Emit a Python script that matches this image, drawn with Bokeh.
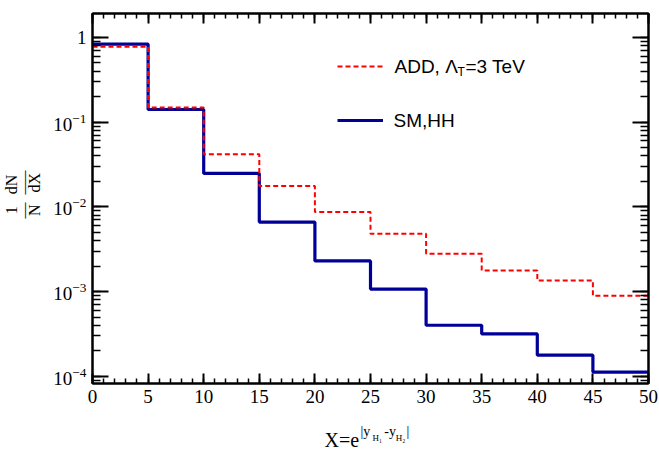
import math
from bokeh.plotting import figure
from bokeh.models import (Range1d, LinearAxis, LogAxis, SingleIntervalTicker, LogTicker,
                          LogTickFormatter, CustomJSTickFormatter, Label, Legend, LegendItem)
from bokeh.embed import file_html
from bokeh.resources import INLINE

# ---------------- data ----------------
bin_edges = [0, 5, 10, 15, 20, 25, 30, 35, 40, 45, 50]
sm_hh = [0.836, 0.141, 0.0248, 0.0066, 0.0023, 0.00107, 0.00040, 0.000316, 0.000177, 0.000112]
add_3tev = [0.778, 0.149, 0.0417, 0.0176, 0.0087, 0.0048, 0.0028, 0.00177, 0.00135, 0.00089]
y_label_overrides = {1: "1"}

W, H = 659, 454
FL, FR, FT, FB = 92, 11, 13, 71
FRAME_BOTTOM = H - FB
X_LO, X_HI = 0, 50
Y_LO, Y_HI = 10 ** -4.086, 10 ** 0.283
NB = "\u00a0"  # non-breaking space (not collapsed in SVG text)


def scr(cx, cy):
    """canvas pixel -> frame-relative screen units (origin bottom-left of frame)"""
    return cx - FL, FRAME_BOTTOM - cy


def steps(edges, vals):
    xs, ys = [], []
    for i, v in enumerate(vals):
        xs += [edges[i], edges[i + 1]]
        ys += [v, v]
    return xs, ys


p = figure(width=W, height=H, output_backend="svg", toolbar_location=None,
           y_axis_type="log",
           x_range=Range1d(X_LO, X_HI), y_range=Range1d(Y_LO, Y_HI),
           min_border_left=FL, min_border_right=FR, min_border_top=FT, min_border_bottom=FB)
p.background_fill_color = "white"
p.border_fill_color = "white"
p.xgrid.grid_line_color = None
p.ygrid.grid_line_color = None
p.outline_line_color = "black"
p.outline_line_width = 2

empty = CustomJSTickFormatter(code="return ''")

# bottom axis
xa = p.xaxis[0]
xa.ticker = SingleIntervalTicker(interval=5, num_minor_ticks=5)
xa.major_tick_in, xa.major_tick_out = 10, 0
xa.minor_tick_in, xa.minor_tick_out = 5, 0
xa.major_label_standoff = 6
xa.major_label_text_font = "Liberation Serif"
xa.major_label_text_font_size = "19px"
xa.major_label_text_color = "black"

# top axis
ta = LinearAxis(ticker=SingleIntervalTicker(interval=5, num_minor_ticks=5), formatter=empty)
ta.major_tick_in, ta.major_tick_out = 10, 0
ta.minor_tick_in, ta.minor_tick_out = 5, 0
ta.major_label_text_font_size = "0px"
ta.major_label_standoff = 0
p.add_layout(ta, "above")

# left axis (the y title is a 3-line rotated axis label: fraction 1/N dN/dX)
ya = p.yaxis[0]
ya.ticker = LogTicker(num_minor_ticks=10)
ya.formatter = LogTickFormatter()
ya.major_label_overrides = y_label_overrides
ya.major_tick_in, ya.major_tick_out = 16, 0
ya.minor_tick_in, ya.minor_tick_out = 8, 0
ya.major_label_standoff = 6
ya.major_label_text_font = "Liberation Serif"
ya.major_label_text_font_size = "19px"
ya.major_label_text_color = "black"
ya.axis_label = (NB * 2 + "1" + NB * 3 + "dN\n"
                 + NB * 2 + "\u2014" + NB * 2 + "\u2013\u2013\u2013\n"
                 + NB * 2 + "N" + NB * 3 + "dX")
ya.axis_label_text_font = "Liberation Serif"
ya.axis_label_text_font_style = "normal"
ya.axis_label_text_font_size = "16px"
ya.axis_label_text_line_height = 0.68
ya.axis_label_text_color = "black"
ya.axis_label_standoff = 7

# right axis
ra = LogAxis(ticker=LogTicker(num_minor_ticks=10), formatter=empty)
ra.major_tick_in, ra.major_tick_out = 16, 0
ra.minor_tick_in, ra.minor_tick_out = 8, 0
ra.major_label_text_font_size = "0px"
ra.major_label_standoff = 0
p.add_layout(ra, "right")

for ax in [xa, ta, ya, ra]:
    ax.axis_line_color = "black"
    ax.axis_line_width = 2
    ax.major_tick_line_color = "black"
    ax.minor_tick_line_color = "black"
    ax.major_tick_line_width = 2
    ax.minor_tick_line_width = 1.5

# histograms
sx, sy = steps(bin_edges, sm_hh)
ax_, ay_ = steps(bin_edges, add_3tev)
r_sm = p.line(sx, sy, line_color="#000099", line_width=3.2)
r_add = p.line(ax_, ay_, line_color="#ff0000", line_width=2, line_dash="5 3")


def lab_out(text, cx, cy, size, side, font="Liberation Serif", align="left",
            baseline="alphabetic"):
    # anchored at the frame's bottom-left corner, offset in pixels; placed in a side
    # panel so that it is not clipped to the frame
    p.add_layout(Label(x=X_LO, y=Y_LO, x_units="data", y_units="data",
                       x_offset=cx - FL, y_offset=FRAME_BOTTOM - cy, text=text,
                       text_align=align, text_baseline=baseline,
                       text_font=font, text_font_size=size, text_color="black"), side)


def lab_in(text, cx, cy, size, font="Liberation Sans", align="left", baseline="middle"):
    x, y = scr(cx, cy)
    p.add_layout(Label(x=x, y=y, x_units="screen", y_units="screen", text=text,
                       text_align=align, text_baseline=baseline,
                       text_font=font, text_font_size=size, text_color="black"))


# x axis title: X=e^{|y_{H1}-y_{H2}|}
lab_out("X=e", 324, 439, "20px", "below", baseline="middle")
lab_out("|y" + NB * 4 + "-y" + NB * 3 + "|", 360, 431, "14px", "below")
lab_out("H\u2081" + NB * 6 + "H\u2082", 372, 437, "9px", "above")

# legend (line samples) + text labels
lx, lyb = scr(337, 130)
legend = Legend(items=[LegendItem(label=" ", renderers=[r_add]),
                       LegendItem(label=" ", renderers=[r_sm])],
                location=(lx, lyb), glyph_width=46, glyph_height=20, label_height=20,
                label_width=1, label_standoff=0, spacing=34, padding=0, margin=0,
                border_line_color=None, background_fill_alpha=0,
                label_text_font_size="8px")
p.add_layout(legend)

lab_in("ADD, \u039b", 394, 66, "19px")
lab_in("T", 457, 71, "12px")
lab_in("=3 TeV", 465, 66, "19px")
lab_in("SM,HH", 393, 120, "19px")

open("out.html", "w").write(file_html(p, INLINE))
